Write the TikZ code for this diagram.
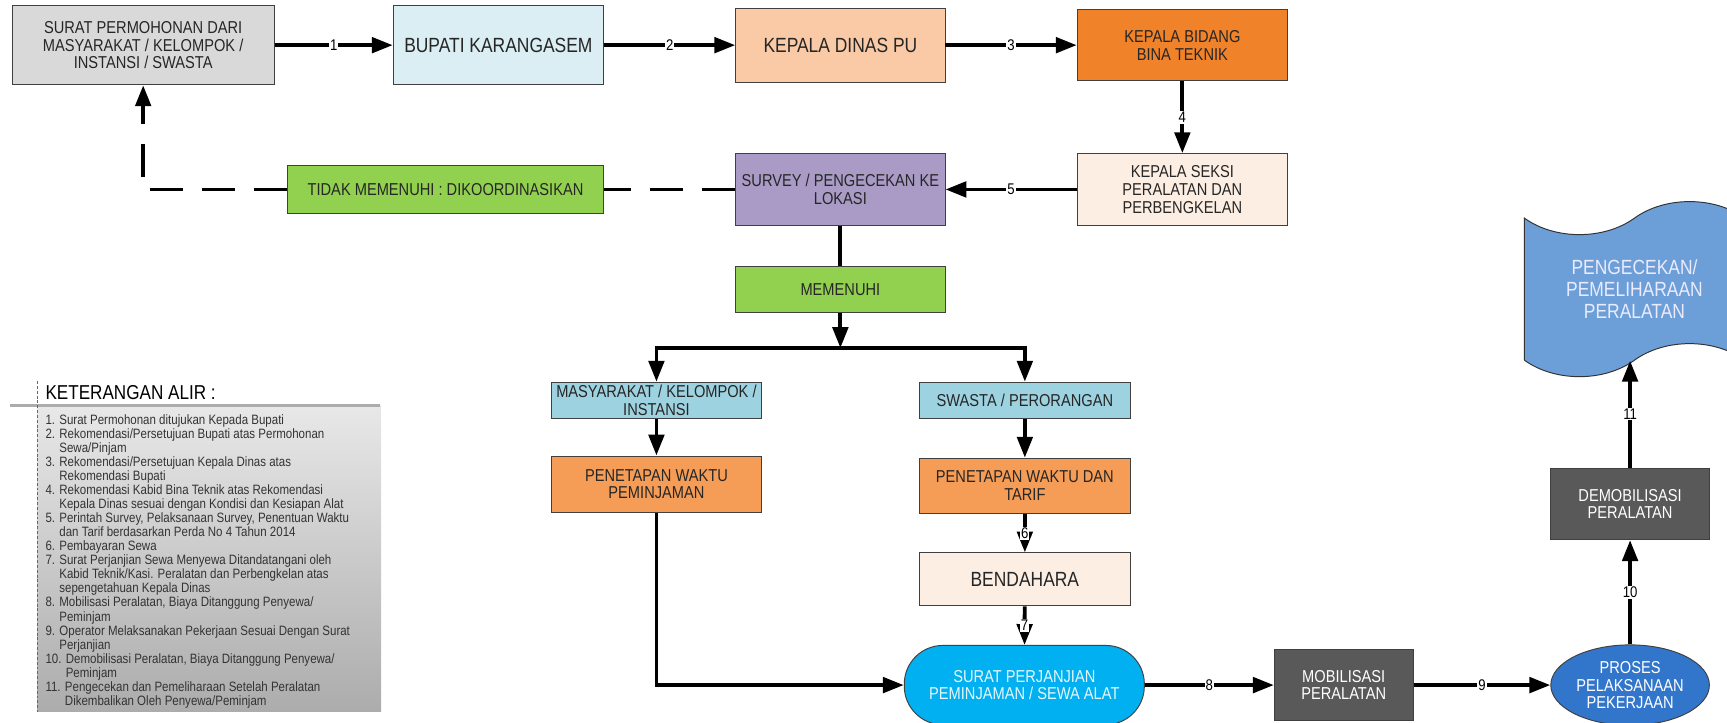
\documentclass[tikz,border=0pt]{standalone}
\usepackage{fontspec}
\setmainfont{Liberation Sans}[FakeStretch=0.85]
\usetikzlibrary{arrows.meta,shapes.geometric,shapes.symbols}

\definecolor{abu}{HTML}{D9D9D9}
\definecolor{birumuda}{HTML}{DAEEF3}
\definecolor{peach}{HTML}{FAC9A5}
\definecolor{oranye}{HTML}{F0822A}
\definecolor{krem}{HTML}{FDEEE3}
\definecolor{ungu}{HTML}{A99BC5}
\definecolor{hijau}{HTML}{92D050}
\definecolor{tosca}{HTML}{9DD2E0}
\definecolor{oranyemuda}{HTML}{F59D56}
\definecolor{cyanalat}{HTML}{00B0F0}
\definecolor{gelap}{HTML}{595959}
\definecolor{biru}{HTML}{3276CC}
\definecolor{biruawan}{HTML}{6C9FD8}

\newcommand\fbesar{\fontsize{10.6}{11}\selectfont}
\newcommand\fkecil{\fontsize{8.9}{9.2}\selectfont}
\newcommand\fawan{\fontsize{10.6}{11.2}\selectfont}
\newcommand\fnomor{\fontsize{8}{8}\selectfont}
\newcommand\fjudul{\fontsize{10.4}{11}\selectfont}
\newcommand\fket{\fontsize{7}{7.26}\selectfont}

\begin{document}
\begin{tikzpicture}[x=0.02cm,y=-0.02cm,
    kotak/.style={draw=black!75,line width=0.5pt,align=center,inner sep=1pt,
        minimum width=3.8cm,font=\fkecil,text=black!85},
    panah/.style={line width=2pt,-{Triangle[length=0.38cm,width=0.28cm]}},
    putus/.style={line width=2pt,dash pattern=on 17pt off 10pt},
    nomor/.style={fill=white,inner sep=0.5pt,font=\fnomor}]
    \useasboundingbox (0,0) rectangle (1568,656);
    %% Baris atas
    \node[kotak,fill=abu,minimum width=4.76cm,minimum height=1.44cm] (surat) at (130,41)
        {SURAT PERMOHONAN DARI\\MASYARAKAT / KELOMPOK /\\INSTANSI / SWASTA};
    \node[kotak,fill=birumuda,minimum width=3.82cm,minimum height=1.44cm,font=\fbesar]
        (bupati) at (452.5,41) {BUPATI KARANGASEM};
    \node[kotak,fill=peach,minimum height=1.34cm,font=\fbesar] (kadis) at (763,41)
        {KEPALA DINAS PU};
    \node[kotak,fill=oranye,minimum width=3.82cm,minimum height=1.3cm] (kabid) at (1073.5,41)
        {KEPALA BIDANG\\BINA TEKNIK};
    %% Baris kedua
    \node[kotak,fill=krem,minimum width=3.82cm,minimum height=1.3cm] (kasi) at (1073.5,172)
        {KEPALA SEKSI\\PERALATAN DAN\\PERBENGKELAN};
    \node[kotak,fill=ungu,minimum height=1.3cm] (survey) at (763,172)
        {SURVEY / PENGECEKAN KE\\LOKASI};
    \node[kotak,fill=hijau,minimum width=5.74cm,minimum height=0.88cm] (tidak) at (404.5,172)
        {TIDAK MEMENUHI : DIKOORDINASIKAN};
    \node[kotak,fill=hijau,minimum height=0.84cm] (memenuhi) at (763,263) {MEMENUHI};
    %% Cabang
    \node[kotak,fill=tosca,minimum height=0.66cm,inner sep=0pt] (masy) at (596,363.5)
        {MASYARAKAT / KELOMPOK /\\INSTANSI};
    \node[kotak,fill=tosca,minimum width=3.82cm,minimum height=0.66cm] (swasta) at (930.5,363.5)
        {SWASTA / PERORANGAN};
    \node[kotak,fill=oranyemuda,minimum height=1.02cm] (penL) at (596,439.5)
        {PENETAPAN WAKTU\\PEMINJAMAN};
    \node[kotak,fill=oranyemuda,minimum width=3.82cm,minimum height=1cm] (penR) at (930.5,441)
        {PENETAPAN WAKTU DAN\\TARIF};
    \node[kotak,fill=krem,minimum width=3.82cm,minimum height=0.96cm,font=\fbesar]
        (bendahara) at (930.5,526) {BENDAHARA};
    %% Baris bawah
    \node[kotak,fill=cyanalat,minimum width=4.36cm,minimum height=1.44cm,rounded corners=0.7cm,
        text=white!90!cyan] (perjanjian) at (930,622) {SURAT PERJANJIAN\\PEMINJAMAN / SEWA ALAT};
    \node[kotak,fill=gelap,minimum width=2.52cm,minimum height=1.3cm,text=white] (mobil)
        at (1220,622) {MOBILISASI\\PERALATAN};
    \node[draw=black!75,line width=0.5pt,ellipse,fill=biru,minimum width=2.88cm,
        minimum height=1.46cm,inner sep=0pt,align=center,font=\fkecil,text=white]
        (proses) at (1480,622) {PROSES\\PELAKSANAAN\\PEKERJAAN};
    \node[kotak,fill=gelap,minimum width=2.88cm,minimum height=1.3cm,text=white] (demob)
        at (1480,457.5) {DEMOBILISASI\\PERALATAN};
    \node[tape,draw=black!80,line width=0.5pt,fill=biruawan,minimum width=4cm,
        minimum height=3.18cm,tape bend height=0.6cm,align=center,font=\fawan,
        text=white!92!blue] (awan) at (1484,262.5) {PENGECEKAN/\\PEMELIHARAAN\\PERALATAN};
    %% Alur
    \draw[panah] (surat) -- node[nomor] {1} (bupati);
    \draw[panah] (bupati) -- node[nomor] {2} (kadis);
    \draw[panah] (kadis) -- node[nomor] {3} (kabid);
    \draw[panah] (kabid) -- node[nomor] {4} (kasi);
    \draw[panah] (kasi) -- node[nomor] {5} (survey);
    \draw[putus] (survey) -- (tidak);
    \draw[putus,-{Triangle[length=0.38cm,width=0.28cm]}] (tidak.west) -| (surat.south);
    \draw[line width=2pt] (survey) -- (memenuhi);
    \coordinate (cabang) at (763,316);
    \coordinate (cabangL) at (596,316);
    \coordinate (cabangR) at (930.5,316);
    \draw[panah] (memenuhi) -- (cabang);
    \draw[line width=2pt,line cap=rect] (cabangL) -- (cabangR);
    \draw[panah] (cabangL) -- (masy);
    \draw[panah] (cabangR) -- (swasta);
    \draw[panah] (masy) -- (penL);
    \draw[panah] (swasta) -- (penR);
    \draw[panah] (penR) -- node[nomor] {6} (bendahara);
    \draw[panah] (bendahara) -- node[nomor] {7} (perjanjian);
    \draw[panah] (penL) |- (perjanjian);
    \draw[panah] (perjanjian) -- node[nomor] {8} (mobil);
    \draw[panah] (mobil) -- node[nomor] {9} (proses);
    \draw[panah] (proses) -- node[nomor] {10} (demob);
    \draw[panah] (demob.north) -- node[nomor] {11} (demob.north |- awan.south);
    %% Keterangan
    \shade[top color=gray!18,bottom color=gray!65] (34,368) rectangle (346,646);
    \draw[gray!65,line width=1.7pt] (9,368) -- (345,368);
    \draw[black!60,line width=0.4pt,dash pattern=on 1.5pt off 1pt] (34,346) -- (34,646);
    \node[anchor=west,inner sep=0pt,font=\fjudul] (judul) at (41,356) {KETERANGAN ALIR :};
    \node[anchor=north west,inner sep=0pt,align=left,font=\fket,text=black!80] (ket) at (41,376)
        {1. Surat Permohonan ditujukan Kepada Bupati\\
        2. Rekomendasi/Persetujuan Bupati atas Permohonan\\
        \phantom{2. }Sewa/Pinjam\\
        3. Rekomendasi/Persetujuan Kepala Dinas atas\\
        \phantom{3. }Rekomendasi Bupati\\
        4. Rekomendasi Kabid Bina Teknik atas Rekomendasi\\
        \phantom{4. }Kepala Dinas sesuai dengan Kondisi dan Kesiapan Alat\\
        5. Perintah Survey, Pelaksanaan Survey, Penentuan Waktu\\
        \phantom{5. }dan Tarif berdasarkan Perda No 4 Tahun 2014\\
        6. Pembayaran Sewa\\
        7. Surat Perjanjian Sewa Menyewa Ditandatangani oleh\\
        \phantom{7. }Kabid Teknik/Kasi. Peralatan dan Perbengkelan atas\\
        \phantom{7. }sepengetahuan Kepala Dinas\\
        8. Mobilisasi Peralatan, Biaya Ditanggung Penyewa/\\
        \phantom{8. }Peminjam\\
        9. Operator Melaksanakan Pekerjaan Sesuai Dengan Surat\\
        \phantom{9. }Perjanjian\\
        10. Demobilisasi Peralatan, Biaya Ditanggung Penyewa/\\
        \phantom{10. }Peminjam\\
        11. Pengecekan dan Pemeliharaan Setelah Peralatan\\
        \phantom{11. }Dikembalikan Oleh Penyewa/Peminjam};
\end{tikzpicture}
\end{document}
